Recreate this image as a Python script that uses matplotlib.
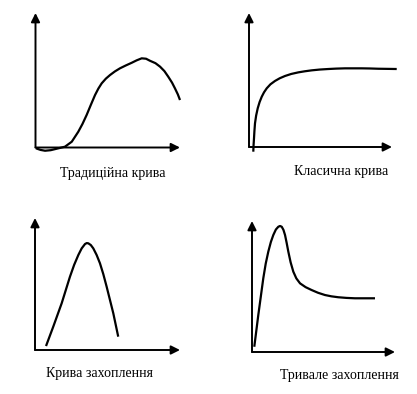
import numpy as np
import matplotlib
matplotlib.use('Agg')
import matplotlib.pyplot as plt

plt.rcParams['font.family'] = ['Liberation Serif', 'DejaVu Serif']

W, H = 417, 394

# Curve shapes (axis units 0..10 on both axes)
trad_x = [0.03, 0.35, 0.66, 1.05, 1.47, 2.04, 2.51, 2.96, 3.25, 3.54, 3.83, 4.12, 4.35, 4.58, 4.87, 5.16, 5.50,
          5.85, 6.25, 6.66, 7.00, 7.35, 7.65, 7.92, 8.30, 8.62, 8.92, 9.19, 9.45, 9.65, 9.85, 10.0]
trad_y = [-0.06, -0.18, -0.24, -0.20, -0.09, 0.06, 0.43, 1.17, 1.75, 2.42, 3.17, 3.90, 4.38, 4.77, 5.12, 5.39, 5.66,
          5.89, 6.10, 6.30, 6.48, 6.63, 6.60, 6.45, 6.27, 6.01, 5.68, 5.26, 4.82, 4.40, 3.95, 3.53]

clas_x = [0.30, 0.32, 0.35, 0.38, 0.42, 0.50, 0.61, 0.74, 0.89, 1.05, 1.24, 1.50, 1.82, 2.15, 2.52, 2.95, 3.45, 3.90,
          4.38, 4.95, 5.55, 6.10, 6.71, 7.30, 7.88, 8.45, 9.04, 9.70, 10.33]
clas_y = [-0.35, 0.15, 0.65, 1.20, 1.77, 2.35, 2.89, 3.35, 3.75, 4.08, 4.38, 4.68, 4.93, 5.13, 5.30, 5.45, 5.57, 5.65,
          5.72, 5.78, 5.82, 5.85, 5.87, 5.87, 5.87, 5.86, 5.84, 5.83, 5.82]

capt_x = [0.76, 1.26, 1.84, 2.41, 2.70, 2.99, 3.22, 3.45, 3.57, 3.68, 3.85, 4.02, 4.25, 4.48, 4.71, 4.94, 5.40, 5.74]
capt_y = [0.30, 1.77, 3.54, 5.55, 6.45, 7.20, 7.70, 8.03, 8.10, 8.08, 7.95, 7.70, 7.20, 6.57, 5.75, 4.80, 2.78, 1.01]

long_x = [0.16, 0.44, 0.79, 0.96, 1.14, 1.32, 1.49, 1.67, 1.84, 1.96, 2.08, 2.20, 2.31, 2.42, 2.54, 2.70, 2.89, 3.10,
          3.36, 3.75, 4.17, 4.62, 5.10, 5.55, 6.03, 6.60, 7.20, 7.90, 8.60]
long_y = [0.40, 2.82, 5.63, 6.75, 7.66, 8.40, 8.93, 9.35, 9.56, 9.62, 9.56, 9.32, 8.93, 8.35, 7.66, 6.85, 6.13, 5.62,
          5.24, 4.95, 4.73, 4.52, 4.35, 4.25, 4.18, 4.13, 4.10, 4.10, 4.10]

titles = ['Традиційна крива', 'Класична крива', 'Крива захоплення', 'Тривале захоплення']

# panel boxes in pixels: origin x, origin y, arrow tip x, arrow tip y
boxes = [(35.5, 147.5, 180, 13), (249, 147, 392, 13), (35, 350, 180, 218), (252, 352, 395, 221)]
captions = [(113, 173), (341, 172), (99, 373), (339, 375)]
curves = [(trad_x, trad_y), (clas_x, clas_y), (capt_x, capt_y), (long_x, long_y)]

fig = plt.figure(figsize=(W / 100, H / 100), dpi=100)
fig.patch.set_facecolor('white')

for (x0, y0, x1, y1), (cx, cy), (xs, ys), title in zip(boxes, captions, curves, titles):
    ax = fig.add_axes([x0 / W, 1 - y0 / H, (x1 - x0) / W, (y0 - y1) / H])
    ax.set_xlim(0, 10)
    ax.set_ylim(0, 10)
    ax.axis('off')
    ax.plot(xs, ys, color='black', lw=1.6, clip_on=False, solid_joinstyle='round', solid_capstyle='butt')
    arrow = dict(arrowstyle='-|>', lw=1.4, color='black', mutation_scale=13, shrinkA=0, shrinkB=0)
    ax.annotate('', xy=(1, 0), xytext=(0, 0), xycoords='axes fraction', arrowprops=arrow)
    ax.annotate('', xy=(0, 1), xytext=(0, 0), xycoords='axes fraction', arrowprops=arrow)
    fig.text(cx / W, 1 - cy / H, title, ha='center', va='center', fontsize=10)

fig.savefig('out.png', dpi=100)
